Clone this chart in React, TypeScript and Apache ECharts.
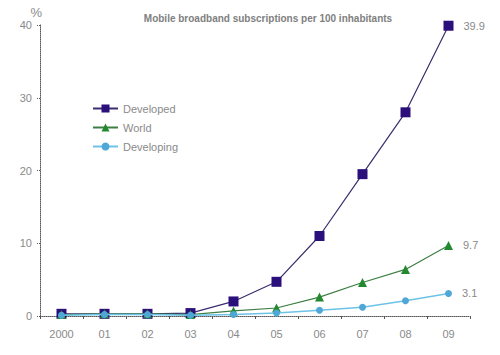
import React, { useEffect, useRef } from "react";
import * as echarts from "echarts";

const years = ["2000", "01", "02", "03", "04", "05", "06", "07", "08", "09"];
const developed = [0.3, 0.3, 0.3, 0.4, 2.0, 4.7, 11.0, 19.5, 28.0, 39.9];
const world = [0.2, 0.3, 0.3, 0.2, 0.7, 1.1, 2.6, 4.6, 6.4, 9.7];
const developing = [0.1, 0.2, 0.2, 0.1, 0.2, 0.4, 0.8, 1.2, 2.1, 3.1];
const yTicks = [0, 10, 20, 30, 40];

const grey = "#8a8a8a";
const font = "Liberation Sans, Arial, sans-serif";

function lastLabel(data: number[]) {
  return data.map((v, i) =>
    i === data.length - 1
      ? { value: v, label: { show: true, position: "right", distance: 10, color: grey, fontSize: 11, fontFamily: font } }
      : v
  );
}

export default function App() {
  const ref = useRef<HTMLDivElement>(null);
  useEffect(() => {
    const chart = echarts.init(ref.current!, null, { renderer: "svg" });
    chart.setOption({
      animation: false,
      backgroundColor: "#fff",
      title: {
        text: "Mobile broadband subscriptions per 100 inhabitants",
        left: 263,
        textAlign: "center",
        top: 8,
        textStyle: { color: "#808080", fontSize: 10, fontWeight: "bold", fontFamily: font },
      },
      legend: {
        orient: "vertical",
        left: 87,
        top: 98,
        itemGap: 8,
        itemWidth: 25,
        itemHeight: 10,
        textStyle: { color: grey, fontSize: 11, fontFamily: font },
        data: ["Developed", "World", "Developing"],
      },
      grid: { left: 40, right: 30, top: 25, bottom: 39 },
      xAxis: {
        type: "category",
        data: years,
        boundaryGap: true,
        axisLine: { lineStyle: { color: "#555", type: "dotted", width: 1 } },
        axisTick: { show: true, length: 3, lineStyle: { color: "#555" } },
        axisLabel: { color: grey, fontSize: 11, fontFamily: font, margin: 12 },
      },
      yAxis: {
        type: "value",
        min: yTicks[0],
        max: yTicks[yTicks.length - 1],
        interval: 10,
        name: "%",
        nameLocation: "end",
        nameGap: 6,
        nameTextStyle: { color: grey, fontSize: 13, fontFamily: font, align: "right", padding: [0, -2, 0, 0] },
        axisLine: { show: true, lineStyle: { color: "#555", type: "dotted", width: 1 } },
        axisTick: { show: true, length: 4, lineStyle: { color: "#555", type: "dotted" } },
        axisLabel: { color: grey, fontSize: 11, fontFamily: font, margin: 8 },
        splitLine: { show: false },
      },
      series: [
        {
          name: "Developed",
          type: "line",
          data: lastLabel(developed),
          symbol: "rect",
          symbolSize: 10,
          itemStyle: { color: "#2b0f7a" },
          lineStyle: { color: "#3b2d6e", width: 1.2 },
          z: 3,
        },
        {
          name: "World",
          type: "line",
          data: lastLabel(world),
          symbol: "triangle",
          symbolSize: 9,
          itemStyle: { color: "#23892f" },
          lineStyle: { color: "#3c7f44", width: 1.2 },
          z: 4,
        },
        {
          name: "Developing",
          type: "line",
          data: lastLabel(developing),
          symbol: "circle",
          symbolSize: 7,
          itemStyle: { color: "#4fa7d6" },
          lineStyle: { color: "#6cc3e6", width: 1.5 },
          z: 5,
        },
      ],
    });
    return () => chart.dispose();
  }, []);
  return <div ref={ref} style={{ width: 500, height: 355, position: "absolute", left: 0, top: 0 }} />;
}
